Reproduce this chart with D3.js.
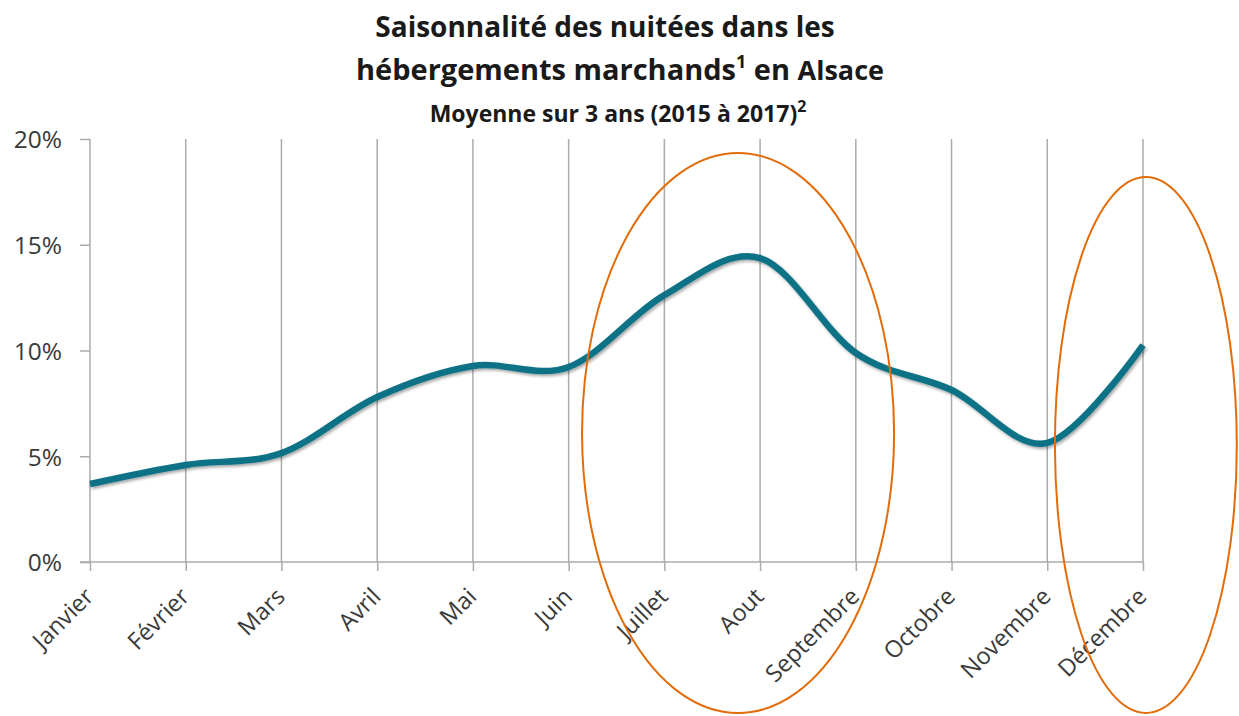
<!DOCTYPE html>
<html><head><meta charset="utf-8">
<script src="https://cdn.jsdelivr.net/npm/d3@7"></script>
<style>
html,body{margin:0;padding:0;background:#fff;}
svg{display:block;}
text{font-family:"Open Sans",sans-serif;}
</style></head>
<body>
<svg id="c" width="1239" height="716"></svg>
<script>
const months = ["Janvier","Février","Mars","Avril","Mai","Juin","Juillet","Aout","Septembre","Octobre","Novembre","Décembre"];
const values = [3.69,4.59,5.15,7.80,9.27,9.22,12.62,14.37,9.88,8.13,5.63,10.26];
const yTicks = [0,5,10,15,20];
// annotation ellipses in data units: centre (month index, %), radii (months, %)
const ellipseCx = [6.77, 11.03];
const ellipseCy = [6.1, 5.53];
const ellipseRx = [1.63, 0.95];
const ellipseRy = [13.24, 12.67];

(function(){
const svg = d3.select("#c");
const mL = 90, mR = 1143, mT = 139, mB = 562;

const x = d3.scalePoint().domain(months).range([mL, mR]);
const xi = d3.scaleLinear().domain([0, months.length-1]).range([mL, mR]);
const y = d3.scaleLinear().domain([0,20]).range([mB, mT]);

const defs = svg.append("defs");
const f = defs.append("filter").attr("id","sh").attr("x","-10%").attr("y","-10%").attr("width","120%").attr("height","130%");
f.append("feDropShadow").attr("dx",1.5).attr("dy",2).attr("stdDeviation",1.5).attr("flood-color","#000").attr("flood-opacity",0.35);

const gridC = "#ababab";
svg.append("g").selectAll("line").data(months.slice(1)).join("line")
  .attr("x1",d=>x(d)).attr("x2",d=>x(d)).attr("y1",y(20)).attr("y2",y(0))
  .attr("stroke",gridC).attr("stroke-width",1.5);

const ya = svg.append("g").attr("transform",`translate(${mL},0)`)
  .call(d3.axisLeft(y).tickValues(yTicks).tickSize(10).tickFormat(d=>d+"%"));
ya.select(".domain").attr("stroke",gridC).attr("stroke-width",1.5).attr("d",`M0,${y(20)}V${y(0)}`);
ya.selectAll(".tick line").attr("stroke",gridC).attr("stroke-width",1.5);
ya.selectAll(".tick text").attr("x",-28).attr("dy","0.36em").attr("font-size",24.5).attr("fill","#3a3a3a")
  .attr("font-family","'Open Sans',sans-serif");

const xa = svg.append("g").attr("transform",`translate(0,${mB})`)
  .call(d3.axisBottom(x).tickSize(9).tickFormat(""));
xa.select(".domain").attr("stroke",gridC).attr("stroke-width",1.5).attr("d",`M${mL-10},0H${mR}`);
xa.selectAll(".tick line").attr("stroke",gridC).attr("stroke-width",1.5);
svg.append("g").selectAll("text").data(months).join("text")
  .attr("transform",d=>`translate(${x(d)+5},${mB+36}) rotate(-45)`)
  .attr("text-anchor","end").attr("font-size",23.5).attr("fill","#3a3a3a")
  .text(d=>d);

const line = d3.line().x((d,i)=>x(months[i])).y(d=>y(d)).curve(d3.curveCardinal.tension(0));
svg.append("path").datum(values).attr("d",line).attr("fill","none")
  .attr("stroke","#0c7286").attr("stroke-width",6.5).attr("stroke-linecap","butt")
  .attr("filter","url(#sh)");

svg.append("g").selectAll("ellipse").data(ellipseCx).join("ellipse")
  .attr("cx",d=>xi(d)).attr("cy",(d,i)=>y(ellipseCy[i]))
  .attr("rx",(d,i)=>xi(ellipseRx[i])-xi(0)).attr("ry",(d,i)=>y(0)-y(ellipseRy[i]))
  .attr("fill","none").attr("stroke","#e36c0a").attr("stroke-width",2);

svg.append("text").attr("x",605).attr("y",37).attr("text-anchor","middle")
  .attr("font-size",28).attr("font-weight",700).attr("fill","#1a1a1a").text("Saisonnalité des nuitées dans les");
const t2 = svg.append("text").attr("x",620).attr("y",80).attr("text-anchor","middle")
  .attr("font-size",29).attr("font-weight",700).attr("fill","#1a1a1a");
t2.append("tspan").text("hébergements marchands");
t2.append("tspan").attr("font-size",18).attr("dy",-12).text("1");
t2.append("tspan").attr("dy",12).text(" en ");
t2.append("tspan").attr("font-size",27).text("Alsace");
const t3 = svg.append("text").attr("x",618).attr("y",122).attr("text-anchor","middle")
  .attr("font-size",23).attr("font-weight",700).attr("fill","#1a1a1a");
t3.append("tspan").text("Moyenne sur 3 ans (2015 à 2017)");
t3.append("tspan").attr("font-size",16).attr("dy",-10).text("2");
})();
</script>
</body></html>
